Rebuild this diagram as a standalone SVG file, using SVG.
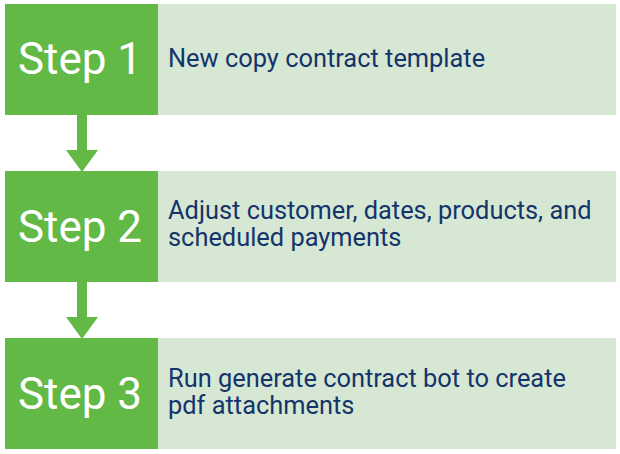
<svg xmlns="http://www.w3.org/2000/svg" width="620" height="454" viewBox="0 0 620 454">
<style>
.bg{fill:#D6E8D3}
.g{fill:#62B946}
.st{font-family:Roboto,"Liberation Sans",sans-serif;font-size:44px;fill:#FFFFFF}
.tx{font-family:Roboto,"Liberation Sans",sans-serif;font-size:25.4px;fill:#14346B}
</style>
<rect width="620" height="454" fill="#FFFFFF"/>
<g id="connectors">
<path class="g" d="M77 115H87V150H98L82 172L66 150H77Z"/>
<path class="g" d="M77 282H87V317H98L82 339L66 317H77Z"/>
</g>
<g id="step1">
<rect class="bg" x="5" y="4" width="611" height="111"/>
<rect class="g" x="5" y="4" width="153" height="111"/>
<text class="st" x="80" y="74" text-anchor="middle">Step 1</text>
<text class="tx" x="168" y="67">New copy contract template</text>
</g>
<g id="step2">
<rect class="bg" x="5" y="171" width="611" height="111"/>
<rect class="g" x="5" y="171" width="153" height="111"/>
<text class="st" x="80" y="242" text-anchor="middle">Step 2</text>
<text class="tx" x="168" y="219">Adjust customer, dates, products, and</text>
<text class="tx" x="168" y="246">scheduled payments</text>
</g>
<g id="step3">
<rect class="bg" x="5" y="338" width="611" height="111"/>
<rect class="g" x="5" y="338" width="153" height="111"/>
<text class="st" x="80" y="409" text-anchor="middle">Step 3</text>
<text class="tx" x="168" y="387">Run generate contract bot to create</text>
<text class="tx" x="168" y="414">pdf attachments</text>
</g>
</svg>
